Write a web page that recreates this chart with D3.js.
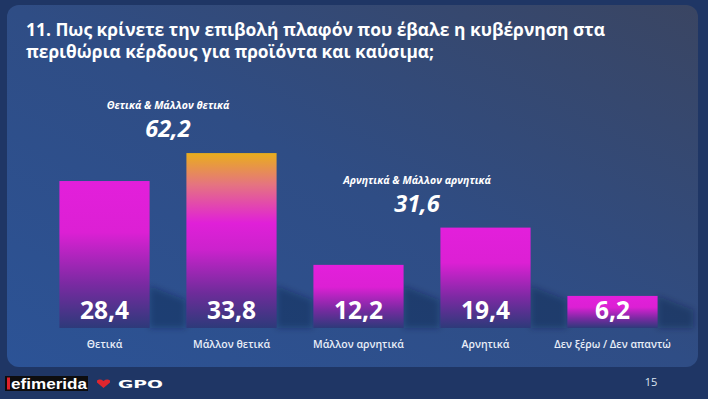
<!DOCTYPE html>
<html><head><meta charset="utf-8">
<script src="https://cdn.jsdelivr.net/npm/d3@7"></script>
<style>html,body{margin:0;padding:0;background:#1f3665;overflow:hidden} svg{display:block}</style>
</head><body>
<script>
// ---- data ----
const categories = ["Θετικά", "Μάλλον θετικά", "Μάλλον αρνητικά", "Αρνητικά", "Δεν ξέρω / Δεν απαντώ"];
const values = [28.4, 33.8, 12.2, 19.4, 6.2];
const groupLabels = ["Θετικά & Μάλλον θετικά", "Αρνητικά & Μάλλον αρνητικά"];
const groupTotals = [62.2, 31.6];
const groupMembers = [[0, 1], [2, 3]];
const titleLines = ["11. Πως κρίνετε την επιβολή πλαφόν που έβαλε η κυβέρνηση στα",
                    "περιθώρια κέρδους για προϊόντα και καύσιμα;"];
const pageNumber = "15";

const W = 708, H = 399;
const FONT = "'Open Sans', 'Noto Sans', sans-serif";
const fmt = v => d3.format(".1f")(v).replace(".", ",");

const svg = d3.select("body").append("svg").attr("width", W).attr("height", H);
const defs = svg.append("defs");

// background
svg.append("rect").attr("width", W).attr("height", H).attr("fill", "#1f3665");

const pg = defs.append("linearGradient").attr("id", "panelGrad")
  .attr("x1", "0").attr("y1", "1").attr("x2", "1").attr("y2", "0");
pg.append("stop").attr("offset", "0").attr("stop-color", "#2c5396");
pg.append("stop").attr("offset", "0.5").attr("stop-color", "#2f4d85");
pg.append("stop").attr("offset", "1").attr("stop-color", "#3a4562");

svg.append("rect").attr("x", 7).attr("y", 5).attr("width", 691).attr("height", 362)
  .attr("rx", 12).attr("fill", "url(#panelGrad)");

// bar gradients
const gMag = defs.append("linearGradient").attr("id", "gMag").attr("x1", 0).attr("y1", 0).attr("x2", 0).attr("y2", 1);
[[0, "#e31fdb"], [0.35, "#dc20d4"], [0.7, "#7a2aa2"], [1, "#2d3a7a"]]
  .forEach(([o, c]) => gMag.append("stop").attr("offset", o).attr("stop-color", c));
const gGold = defs.append("linearGradient").attr("id", "gGold").attr("x1", 0).attr("y1", 0).attr("x2", 0).attr("y2", 1);
[[0, "#e9ae1c"], [0.18, "#e57480"], [0.4, "#e020d8"], [0.55, "#cc22cd"], [0.8, "#6e2c9a"], [1, "#2d3a7a"]]
  .forEach(([o, c]) => gGold.append("stop").attr("offset", o).attr("stop-color", c));

const blur = defs.append("filter").attr("id", "blur").attr("x", "-20%").attr("y", "-20%").attr("width", "140%").attr("height", "140%");
blur.append("feGaussianBlur").attr("stdDeviation", 3);

// scales
const x = d3.scaleBand().domain(categories).range([41, 676]).paddingInner(0.29).paddingOuter(0.145);
const y = d3.scaleLinear().domain([0, 40]).range([328, 121]);
const maxV = d3.max(values);

// title
titleLines.forEach((t, i) => {
  svg.append("text").attr("x", 26).attr("y", 36 + i * 22)
    .attr("font-family", FONT).attr("font-weight", 700).attr("font-size", 17.5)
    .attr("fill", "#ffffff")
    .attr("textLength", i === 0 ? 579 : 408).attr("lengthAdjust", "spacingAndGlyphs")
    .text(t);
});

// shadows
svg.append("g").attr("filter", "url(#blur)").selectAll("path").data(values).join("path")
  .attr("d", (d, i) => {
    const x1 = x(categories[i]) + x.bandwidth();
    const b = y(0);
    const h = Math.min(42, b - y(d));
    return `M${x1},${b - h} L${x1 + 36},${b - h + 14} L${x1 + 36},${b} L${x1},${b} Z`;
  })
  .attr("fill", "#0c1a3c").attr("opacity", 0.35);

// bars
svg.append("g").selectAll("rect").data(values).join("rect")
  .attr("x", (d, i) => x(categories[i]))
  .attr("y", d => y(d))
  .attr("width", x.bandwidth())
  .attr("height", d => y(0) - y(d))
  .attr("fill", d => d === maxV ? "url(#gGold)" : "url(#gMag)");

// value labels
svg.append("g").selectAll("text").data(values).join("text")
  .attr("x", (d, i) => x(categories[i]) + x.bandwidth() / 2)
  .attr("y", y(0) - 9.5)
  .attr("text-anchor", "middle")
  .attr("font-family", FONT).attr("font-weight", 700).attr("font-size", 24.5)
  .attr("fill", "#ffffff")
  .text(d => fmt(d));

// category labels
svg.append("g").selectAll("text").data(categories).join("text")
  .attr("x", d => x(d) + x.bandwidth() / 2)
  .attr("y", y(0) + 19.5)
  .attr("text-anchor", "middle")
  .attr("font-family", FONT).attr("font-weight", 600).attr("font-size", 10.5)
  .attr("fill", "#e9eef8")
  .text(d => d);

// group annotations
groupMembers.forEach((m, gi) => {
  const cx = d3.mean(m, i => x(categories[i]) + x.bandwidth() / 2) - (gi === 1 ? 5 : 0);
  const top = y(d3.max(m, i => values[i]));
  svg.append("text").attr("x", cx).attr("y", top - 44)
    .attr("text-anchor", "middle")
    .attr("font-family", FONT).attr("font-weight", 700).attr("font-style", "italic").attr("font-size", 10.5)
    .attr("fill", "#ffffff").text(groupLabels[gi]);
  svg.append("text").attr("x", cx).attr("y", top - 16)
    .attr("text-anchor", "middle")
    .attr("font-family", FONT).attr("font-weight", 700).attr("font-style", "italic").attr("font-size", 23.5)
    .attr("fill", "#ffffff").text(fmt(groupTotals[gi]));
});

// footer logos
const logo = svg.append("g");
logo.append("rect").attr("x", 5).attr("y", 376).attr("width", 83).attr("height", 15).attr("fill", "#0d0d0f");
logo.append("rect").attr("x", 7).attr("y", 377.5).attr("width", 3).attr("height", 12).attr("fill", "#e0202a");
logo.append("text").attr("x", 11).attr("y", 389)
  .attr("font-family", "'Liberation Sans', Arial, sans-serif").attr("font-weight", 700).attr("font-size", 15)
  .attr("textLength", 76).attr("lengthAdjust", "spacingAndGlyphs")
  .attr("fill", "#ffffff").text("efimerida");
logo.append("path")
  .attr("d", "M97,380.5 Q100,378.5 103.5,381 Q107,378.5 110,380.5 L110,382.5 L103.5,388 L97,382.5 Z")
  .attr("fill", "#e0262e");
logo.append("text").attr("x", 118).attr("y", 387.5)
  .attr("font-family", "'DejaVu Sans', sans-serif").attr("font-weight", 700).attr("font-size", 10)
  .attr("textLength", 45).attr("lengthAdjust", "spacingAndGlyphs")
  .attr("fill", "#ffffff").text("GPO");

svg.append("text").attr("x", 651).attr("y", 386).attr("text-anchor", "middle")
  .attr("font-family", FONT).attr("font-size", 11).attr("fill", "#dfe6f2").text(pageNumber);
</script>
</body></html>
